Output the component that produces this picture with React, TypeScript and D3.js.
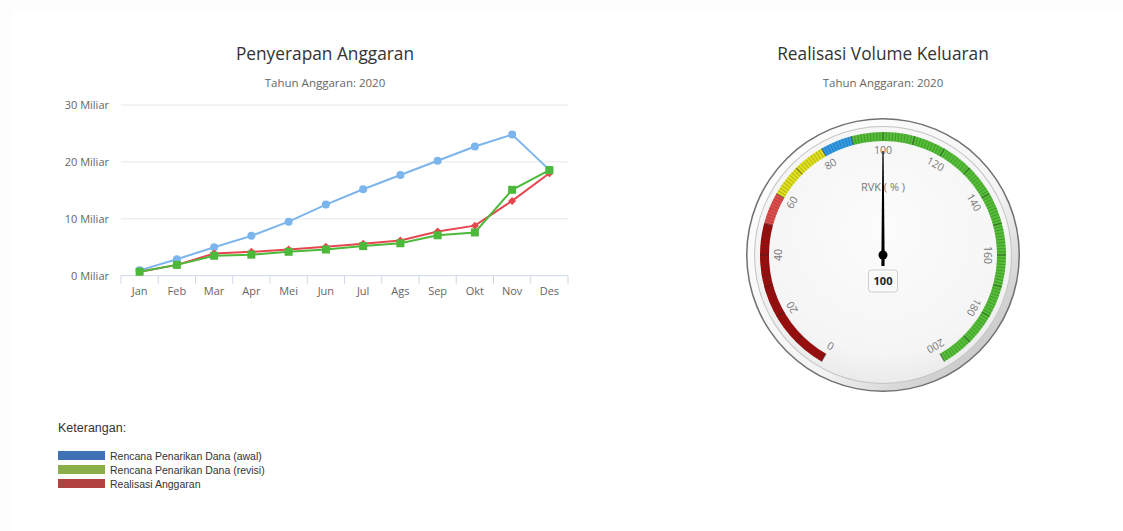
import React from 'react';
import * as d3 from 'd3';

const months = ['Jan', 'Feb', 'Mar', 'Apr', 'Mei', 'Jun', 'Jul', 'Ags', 'Sep', 'Okt', 'Nov', 'Des'];
const rencanaAwal = [0.94, 2.9, 5.0, 7.0, 9.5, 12.5, 15.2, 17.7, 20.2, 22.7, 24.8, 18.6];
const realisasi = [0.7, 1.9, 3.9, 4.2, 4.6, 5.1, 5.6, 6.2, 7.75, 8.8, 13.15, 18.0];
const rencanaRevisi = [0.7, 1.9, 3.5, 3.7, 4.2, 4.6, 5.2, 5.7, 7.1, 7.6, 15.1, 18.55];
const yTicks = [0, 10, 20, 30];

const gaugeValue = 100;
const gaugeTicks = [0, 20, 40, 60, 80, 100, 120, 140, 160, 180, 200];
const bandFrom = [0, 50, 60, 80, 90];
const bandTo = [50, 60, 80, 90, 200];
const bandColors = ['#9c0c0c', '#e24b4b', '#dfe01a', '#2f9be8', '#52bf35'];

const legendLabels = ['Rencana Penarikan Dana (awal)', 'Rencana Penarikan Dana (revisi)', 'Realisasi Anggaran'];
const legendColors = ['#3f72b4', '#8aae4a', '#b04241'];

const FONT = '"Open Sans", "DejaVu Sans", sans-serif';
const ARIAL = '"Liberation Sans", Arial, sans-serif';

function LineChart() {
  const x = d3.scaleBand<string>().domain(months).range([121, 568]);
  const y = d3.scaleLinear().domain([0, 30]).range([275.7, 105]);
  const cx = (i: number) => (x(months[i]) as number) + x.bandwidth() / 2;
  const line = d3
    .line<number>()
    .x((_, i) => cx(i))
    .y((d) => y(d));
  const boundaries = months.map((m) => x(m) as number).concat([568]);
  return (
    <g>
      <text x={325} y={60} textAnchor="middle" fontFamily={FONT} fontSize={17.3} fill="#333">
        Penyerapan Anggaran
      </text>
      <text x={325} y={87} textAnchor="middle" fontFamily={FONT} fontSize={11.5} fill="#666">
        Tahun Anggaran: 2020
      </text>
      {yTicks.map((t) => (
        <g key={t}>
          {t > 0 && <line x1={121} x2={568} y1={y(t)} y2={y(t)} stroke="#e8e8e8" strokeWidth={1} />}
          <text x={109} y={y(t) + 4} textAnchor="end" fontFamily={FONT} fontSize={11} fill="#666">
            {t} Miliar
          </text>
        </g>
      ))}
      <line x1={121} x2={568} y1={y(0)} y2={y(0)} stroke="#ccd6eb" strokeWidth={1} />
      {boundaries.map((b, i) => (
        <line key={i} x1={b} x2={b} y1={y(0)} y2={y(0) + 8} stroke="#ccd6eb" strokeWidth={1} />
      ))}
      {months.map((m, i) => (
        <text key={m} x={cx(i)} y={295} textAnchor="middle" fontFamily={FONT} fontSize={11} fill="#666">
          {m}
        </text>
      ))}
      <path d={line(rencanaAwal) as string} fill="none" stroke="#7cb5ec" strokeWidth={2} />
      {rencanaAwal.map((d, i) => (
        <circle key={i} cx={cx(i)} cy={y(d)} r={4} fill="#7cb5ec" />
      ))}
      <path d={line(realisasi) as string} fill="none" stroke="#e6474f" strokeWidth={2} />
      {realisasi.map((d, i) => (
        <path
          key={i}
          d={`M${cx(i)},${y(d) - 4}L${cx(i) + 4},${y(d)}L${cx(i)},${y(d) + 4}L${cx(i) - 4},${y(d)}Z`}
          fill="#e6474f"
        />
      ))}
      <path d={line(rencanaRevisi) as string} fill="none" stroke="#4cb93a" strokeWidth={2} />
      {rencanaRevisi.map((d, i) => (
        <rect key={i} x={cx(i) - 4} y={y(d) - 4} width={8} height={8} fill="#4cb93a" />
      ))}
    </g>
  );
}

function Gauge() {
  const gx = 883;
  const gy = 255;
  const ang = d3.scaleLinear().domain([0, 200]).range([-150, 150]);
  const rad = (v: number) => (ang(v) * Math.PI) / 180;
  const arc = d3.arc();
  const minor = d3.range(0, 201, 1);
  const needleA = ang(gaugeValue);
  return (
    <g>
      <defs>
        <linearGradient id="bezel" x1="0" y1="0" x2="1" y2="1">
          <stop offset="0" stopColor="#ffffff" />
          <stop offset="0.6" stopColor="#f4f4f4" />
          <stop offset="1" stopColor="#b4b4b4" />
        </linearGradient>
        <radialGradient id="face" cx="0.5" cy="0.4" r="0.65">
          <stop offset="0" stopColor="#fcfcfc" />
          <stop offset="0.75" stopColor="#f5f5f5" />
          <stop offset="1" stopColor="#e6e6e6" />
        </radialGradient>
      </defs>
      <text x={gx} y={60} textAnchor="middle" fontFamily={FONT} fontSize={17.3} fill="#333">
        Realisasi Volume Keluaran
      </text>
      <text x={gx} y={87} textAnchor="middle" fontFamily={FONT} fontSize={11.5} fill="#666">
        Tahun Anggaran: 2020
      </text>
      <circle cx={gx} cy={gy} r={137} fill="#707070" />
      <circle cx={gx} cy={gy} r={135.5} fill="url(#bezel)" />
      <circle cx={gx} cy={gy} r={129} fill="#c4c4c4" />
      <circle cx={gx} cy={gy} r={128} fill="url(#face)" />
      <g transform={`translate(${gx},${gy})`}>
        {bandFrom.map((f, i) => (
          <path
            key={i}
            d={arc({ innerRadius: 114, outerRadius: 123, startAngle: rad(f), endAngle: rad(bandTo[i]) }) as string}
            fill={bandColors[i]}
          />
        ))}
        {minor.map((v) => {
          const a = rad(v);
          const major = v % 10 === 0;
          return (
            <line
              key={v}
              x1={114 * Math.sin(a)}
              y1={-114 * Math.cos(a)}
              x2={123 * Math.sin(a)}
              y2={-123 * Math.cos(a)}
              stroke={major ? 'rgba(40,40,40,0.55)' : 'rgba(50,50,50,0.33)'}
              strokeWidth={major ? 1.3 : 0.9}
            />
          );
        })}
        {gaugeTicks.map((t) => {
          const a = rad(t);
          const r = 105;
          return (
            <text
              key={t}
              transform={`translate(${r * Math.sin(a)},${-r * Math.cos(a)}) rotate(${ang(t)})`}
              textAnchor="middle"
              dy="0.35em"
              fontFamily={FONT}
              fontSize={10.5}
              fill="#777"
            >
              {t}
            </text>
          );
        })}
        <text x={0} y={-64} textAnchor="middle" fontFamily={FONT} fontSize={11} fill="#777">
          RVK ( % )
        </text>
        <g transform={`rotate(${needleA})`}>
          <path d="M-1.6,11 L-1.6,0 L-0.6,-104 L0.6,-104 L1.6,0 L1.6,11 Z" fill="#000" />
        </g>
        <circle cx={0} cy={0} r={4.5} fill="#000" />
        <rect x={-14.5} y={15} width={29} height={22} rx={3} fill="#fafafa" stroke="#cfcfcf" strokeWidth={1} />
        <text x={0} y={30} textAnchor="middle" fontFamily={FONT} fontSize={11} fontWeight="bold" fill="#222">
          {gaugeValue}
        </text>
      </g>
    </g>
  );
}

function Legend() {
  return (
    <g>
      <text x={58} y={432} fontFamily={ARIAL} fontSize={12.5} fill="#333">
        Keterangan:
      </text>
      {legendLabels.map((l, i) => (
        <g key={l}>
          <rect x={58} y={451 + i * 14} width={47} height={9} fill={legendColors[i]} />
          <text x={110} y={459.5 + i * 14} fontFamily={ARIAL} fontSize={10.5} fill="#333">
            {l}
          </text>
        </g>
      ))}
    </g>
  );
}

export default function App() {
  return (
    <div style={{ position: 'absolute', left: 0, top: 0, width: 1123, height: 531, background: '#fff' }}>
      <svg width={1123} height={531} style={{ display: 'block' }}>
        <defs>
          <filter id="blur1" x="-10%" y="-10%" width="120%" height="120%">
            <feGaussianBlur stdDeviation="1" />
          </filter>
        </defs>
        <rect x={0} y={0} width={1123} height={531} fill="#fdfdfd" />
        <line x1={6} x2={1123} y1={10.5} y2={10.5} stroke="#dcdcdc" strokeWidth={2} filter="url(#blur1)" />
        <line x1={11} x2={11} y1={11} y2={531} stroke="#b5b5b5" strokeWidth={2} filter="url(#blur1)" />
        <rect x={12} y={12} width={1111} height={519} fill="#fff" />
        <line x1={1112} x2={1112} y1={28} y2={510} stroke="#dedede" strokeWidth={2} filter="url(#blur1)" />
        <LineChart />
        <Gauge />
        <Legend />
      </svg>
    </div>
  );
}
